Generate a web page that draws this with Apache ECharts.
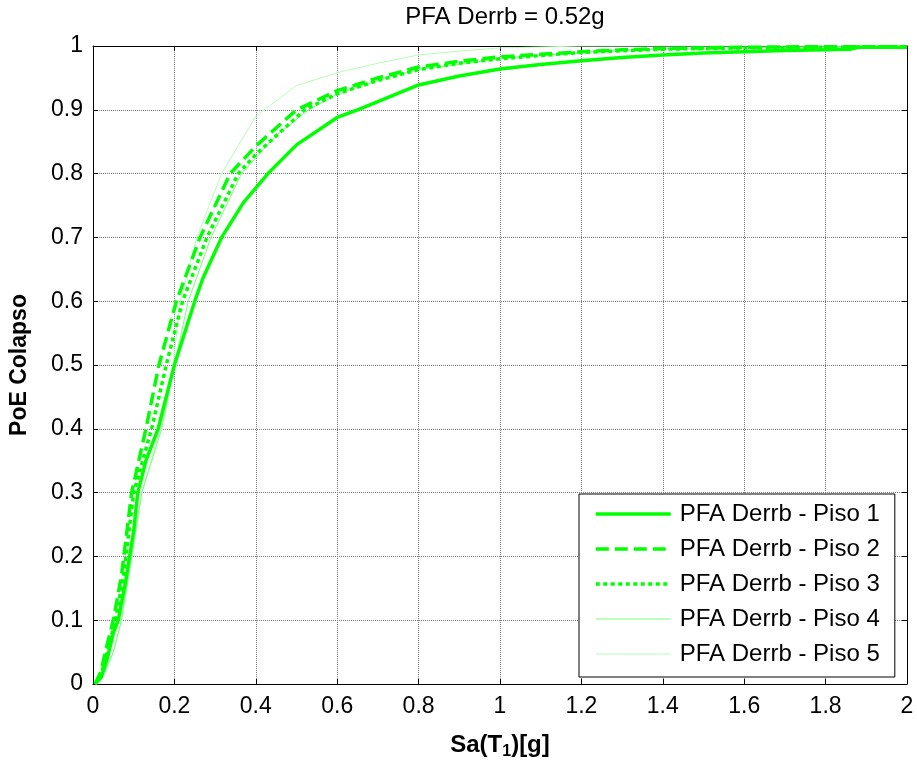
<!DOCTYPE html>
<html>
<head>
<meta charset="utf-8">
<script src="https://cdn.jsdelivr.net/npm/echarts@6/dist/echarts.min.js"></script>
<style>
  html, body { margin: 0; padding: 0; background: #fff; }
  #chart { width: 917px; height: 765px; }
</style>
</head>
<body>
<div id="chart"></div>
<script>
// Fragility curves: probability of collapse vs spectral acceleration, one curve per floor
const seriesNames = ['PFA Derrb - Piso 1', 'PFA Derrb - Piso 2', 'PFA Derrb - Piso 3', 'PFA Derrb - Piso 4', 'PFA Derrb - Piso 5'];

const piso1 = [[0.005,0],[0.02,0.01],[0.035,0.04],[0.05,0.08],[0.062,0.1],[0.08,0.16],[0.1,0.24],[0.11,0.3],[0.13,0.35],[0.16,0.4],[0.2,0.5],[0.25,0.6],[0.27,0.636],[0.316,0.7],[0.37,0.755],[0.43,0.8],[0.5,0.845],[0.6,0.888],[0.65,0.9],[0.7,0.913],[0.8,0.939],[0.9,0.953],[1.0,0.964],[1.1,0.971],[1.2,0.977],[1.3,0.982],[1.4,0.986],[1.5,0.989],[1.6,0.991],[1.7,0.993],[1.8,0.994],[1.86,0.995],[1.88,0.998],[2.0,0.998]];

const piso2 = [[0.005,0],[0.02,0.02],[0.03,0.05],[0.05,0.1],[0.07,0.17],[0.095,0.3],[0.13,0.4],[0.162,0.5],[0.205,0.6],[0.263,0.7],[0.3,0.75],[0.337,0.8],[0.4,0.843],[0.5,0.9],[0.6,0.93],[0.7,0.95],[0.8,0.967],[0.9,0.976],[1.0,0.983],[1.1,0.987],[1.2,0.991],[1.3,0.994],[1.4,0.996],[1.5,0.997],[1.6,0.998],[1.8,0.999],[2.0,0.999]];

const piso3 = [[0.005,0],[0.02,0.015],[0.035,0.05],[0.055,0.1],[0.075,0.17],[0.1,0.3],[0.144,0.4],[0.18,0.5],[0.22,0.6],[0.28,0.7],[0.357,0.8],[0.4,0.83],[0.52,0.9],[0.6,0.925],[0.7,0.946],[0.8,0.963],[0.9,0.973],[1.0,0.98],[1.2,0.99],[1.4,0.995],[1.6,0.997],[2.0,0.999]];

const piso4 = [[0.005,0],[0.03,0.02],[0.05,0.05],[0.07,0.1],[0.09,0.18],[0.12,0.3],[0.169,0.4],[0.2,0.5],[0.234,0.6],[0.29,0.7],[0.365,0.8],[0.45,0.86],[0.53,0.9],[0.6,0.925],[0.7,0.946],[0.8,0.963],[1.0,0.98],[1.2,0.99],[1.4,0.996],[2.0,1.0]];

const piso5 = [[0.005,0],[0.03,0.02],[0.05,0.05],[0.07,0.1],[0.09,0.18],[0.12,0.3],[0.165,0.4],[0.197,0.5],[0.214,0.6],[0.255,0.7],[0.316,0.8],[0.4,0.89],[0.5,0.938],[0.6,0.958],[0.7,0.973],[0.8,0.986],[0.9,0.992],[1.0,0.997],[1.2,1.0],[2.0,1.0]];

const xTicks = [0, 0.2, 0.4, 0.6, 0.8, 1, 1.2, 1.4, 1.6, 1.8, 2];
const yTicks = [0, 0.1, 0.2, 0.3, 0.4, 0.5, 0.6, 0.7, 0.8, 0.9, 1];

const FONT = '"Liberation Sans", Arial, sans-serif';

const chart = echarts.init(document.getElementById('chart'), null, { renderer: 'canvas' });

const gridLine = { show: true, lineStyle: { color: '#7a7a7a', type: [1, 1], width: 1 } };
const boxLine = { show: true, onZero: false, lineStyle: { color: '#000', width: 1 } };
const inTicks = { show: true, inside: true, length: 5, lineStyle: { color: '#000' } };

// tick labels taken from the tick lists so they read exactly as written
function xLabel(v) { const t = xTicks.find(k => Math.abs(k - v) < 1e-6); return t === undefined ? '' : String(t); }
function yLabel(v) { const t = yTicks.find(k => Math.abs(k - v) < 1e-6); return t === undefined ? '' : String(t); }

const lineSeries = [
  { data: piso1, color: '#00ff00', width: 3.5, type: 'solid' },
  { data: piso2, color: '#00ff00', width: 3.5, type: [13, 6] },
  { data: piso3, color: '#00ff00', width: 3.5, type: [4, 3.5] },
  { data: piso4, color: '#77ff77', width: 1, type: 'solid' },
  { data: piso5, color: '#b4ffb4', width: 1, type: 'solid' }
].map((s, i) => ({
  name: seriesNames[i],
  type: 'line',
  data: s.data,
  showSymbol: false,
  symbol: 'none',
  smooth: false,
  color: s.color,
  lineStyle: { color: s.color, width: s.width, type: s.type },
  z: 10 - i,
  animation: false
}));

chart.setOption({
  animation: false,
  backgroundColor: '#fff',
  title: {
    text: 'PFA Derrb = 0.52g',
    left: 500, top: -2, textAlign: 'center',
    textStyle: { fontFamily: FONT, fontSize: 24, fontWeight: 'normal', color: '#000', lineHeight: 28 }
  },
  grid: { left: 93, right: 10, top: 46, bottom: 76, containLabel: false },
  legend: {
    orient: 'vertical',
    left: 579, top: 494,
    padding: [7, 15, 10, 15],
    itemWidth: 75, itemHeight: 14, itemGap: 9,
    backgroundColor: '#fff',
    borderColor: '#000', borderWidth: 1,
    borderRadius: 0,
    itemStyle: { opacity: 0 },
    lineStyle: { width: 'inherit' },
    textStyle: { fontFamily: FONT, fontSize: 24, lineHeight: 26, color: '#000', padding: [0, 0, 0, 4] },
    data: seriesNames
  },
  xAxis: [{
    type: 'value', min: 0, max: 2, interval: 0.2,
    axisLine: boxLine, axisTick: inTicks, splitLine: gridLine,
    axisLabel: { fontFamily: FONT, fontSize: 23, color: '#000', margin: 11, formatter: xLabel },
    name: '{a|Sa(T}{s|1}{a|)[g]}',
    nameLocation: 'middle', nameGap: 47,
    nameTextStyle: {
      rich: {
        a: { fontFamily: FONT, fontSize: 24, fontWeight: 'bold', color: '#000', lineHeight: 28 },
        s: { fontFamily: FONT, fontSize: 16, fontWeight: 'bold', color: '#000', lineHeight: 28, padding: [14, 0, 0, 0] }
      }
    }
  }, {
    type: 'value', min: 0, max: 2, interval: 0.2, position: 'top',
    axisLine: boxLine, axisTick: inTicks, splitLine: { show: false },
    axisLabel: { show: false }
  }],
  yAxis: [{
    type: 'value', min: 0, max: 1, interval: 0.1,
    axisLine: boxLine, axisTick: inTicks, splitLine: gridLine,
    axisLabel: { fontFamily: FONT, fontSize: 23, color: '#000', margin: 10, formatter: yLabel },
    name: 'PoE Colapso',
    nameLocation: 'middle', nameGap: 62, nameRotate: 90,
    nameTextStyle: { fontFamily: FONT, fontSize: 23, fontWeight: 'bold', color: '#000' }
  }, {
    type: 'value', min: 0, max: 1, interval: 0.1, position: 'right',
    axisLine: boxLine, axisTick: inTicks, splitLine: { show: false },
    axisLabel: { show: false }
  }],
  series: lineSeries
});
</script>
</body>
</html>
